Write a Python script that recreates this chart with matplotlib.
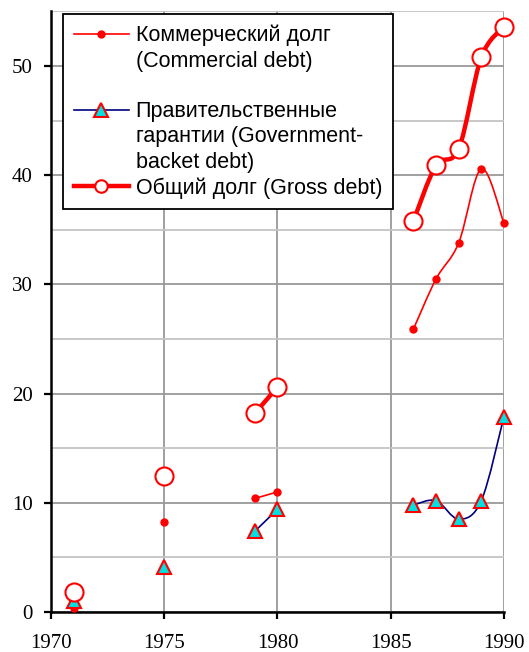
import numpy as np
import matplotlib
matplotlib.use("Agg")
import matplotlib.pyplot as plt
from matplotlib.path import Path
from matplotlib.patches import PathPatch
from matplotlib.lines import Line2D

years = [1971, 1975, 1979, 1980, 1986, 1987, 1988, 1989, 1990]
commercial = [0.4, 8.2, 10.4, 11.0, 25.9, 30.5, 33.8, 40.6, 35.6]
government = [1.0, 4.1, 7.4, 9.4, 9.8, 10.2, 8.5, 10.2, 17.9]
gross = [1.8, 12.5, 18.2, 20.6, 35.8, 40.9, 42.4, 50.8, 53.6]
# contiguous runs of years (lines are drawn within each run only)
runs = [[0], [1], [2, 3], [4, 5, 6, 7, 8]]

# legend text, one row per line of the original legend
legend_rows = ["Коммерческий долг", "(Commercial debt)", " ",
               "Правительственные", "гарантии (Government-", "backet debt)",
               "Общий долг (Gross debt)"]
xticks = [1970, 1975, 1980, 1985, 1990]
yticks = [0, 10, 20, 30, 40, 50]

fig = plt.figure(figsize=(5.29, 6.52), dpi=100)
ax = fig.add_axes([0.0964, 0.0613, 0.8563, 0.9212])
ax.set_xlim(1970, 1990)
ax.set_ylim(0, 55)


def smooth_path(xs, ys, k=1/6):
    pts = np.column_stack([xs, ys]).astype(float)
    n = len(pts)
    verts = [pts[0]]
    codes = [Path.MOVETO]
    for i in range(n - 1):
        p0 = pts[i - 1] if i > 0 else pts[i]
        p1 = pts[i]
        p2 = pts[i + 1]
        p3 = pts[i + 2] if i + 2 < n else pts[i + 1]
        c1 = p1 + (p2 - p0) * k
        c2 = p2 - (p3 - p1) * k
        verts += [c1, c2, p2]
        codes += [Path.CURVE4] * 3
    return Path(verts, codes)


def draw_series(vals, color, lw, z):
    for r in runs:
        if len(r) < 2:
            continue
        xs = [years[i] for i in r]
        ys = [vals[i] for i in r]
        ax.add_patch(PathPatch(smooth_path(xs, ys), facecolor="none",
                               edgecolor=color, lw=lw, zorder=z,
                               capstyle="round", joinstyle="round"))


draw_series(commercial, "#ff0000", 1.2, 3)
draw_series(government, "#000080", 1.2, 3)
draw_series(gross, "#ff0000", 3.2, 3)

ax.plot(years, commercial, ls="none", marker="o", ms=5, mfc="#ff0000",
        mec="#ff0000", zorder=4, clip_on=False)
ax.plot(years, government, ls="none", marker="^", ms=10, mfc="#00e0e0",
        mec="#ff0000", mew=1.5, zorder=4, clip_on=False)
ax.plot(years, gross, ls="none", marker="o", ms=13, mfc="white",
        mec="#ff0000", mew=1.5, zorder=5, clip_on=False)

ax.set_xticks(xticks)
ax.set_yticks(yticks)
ax.set_yticks([5, 15, 25, 35, 45, 55], minor=True)
ax.grid(True, which="major", color="#999999", lw=1.3, zorder=0)
ax.grid(True, which="minor", axis="y", color="#c4c4c4", lw=1.3, zorder=0)
ax.tick_params(which="minor", left=False)
ax.tick_params(which="major", direction="out", length=5, width=1.6,
               labelsize=15)
ax.tick_params(axis="y", pad=8)
ax.tick_params(axis="x", pad=11)
for t in ax.get_xticklabels() + ax.get_yticklabels():
    t.set_family("Liberation Serif")
ax.spines["top"].set_visible(False)
ax.spines["right"].set_visible(False)
ax.spines["left"].set_linewidth(1.8)
ax.spines["bottom"].set_linewidth(1.8)
ax.set_axisbelow(True)

blank = Line2D([], [], ls="none", marker="none")
handles = [
    Line2D([], [], color="#ff0000", lw=1.2, marker="o", ms=5),
    blank, blank,
    Line2D([], [], color="#000080", lw=1.2, marker="^", ms=10,
           mfc="#00e0e0", mec="#ff0000", mew=1.5),
    blank, blank,
    Line2D([], [], color="#ff0000", lw=3.2, marker="o", ms=9,
           mfc="white", mec="#ff0000", mew=1.5),
]
leg = ax.legend(handles, legend_rows, loc="upper left",
                bbox_to_anchor=(0.0265, 0.9957), borderaxespad=0,
                frameon=True, fancybox=False,
                framealpha=1, edgecolor="black", handlelength=2.55,
                handletextpad=0.32, labelspacing=0.2, borderpad=0.5,
                prop={"family": "Liberation Sans", "size": 15.5})
leg.get_frame().set_linewidth(1.3)
leg.set_zorder(10)

fig.savefig("out.png", dpi=100)
